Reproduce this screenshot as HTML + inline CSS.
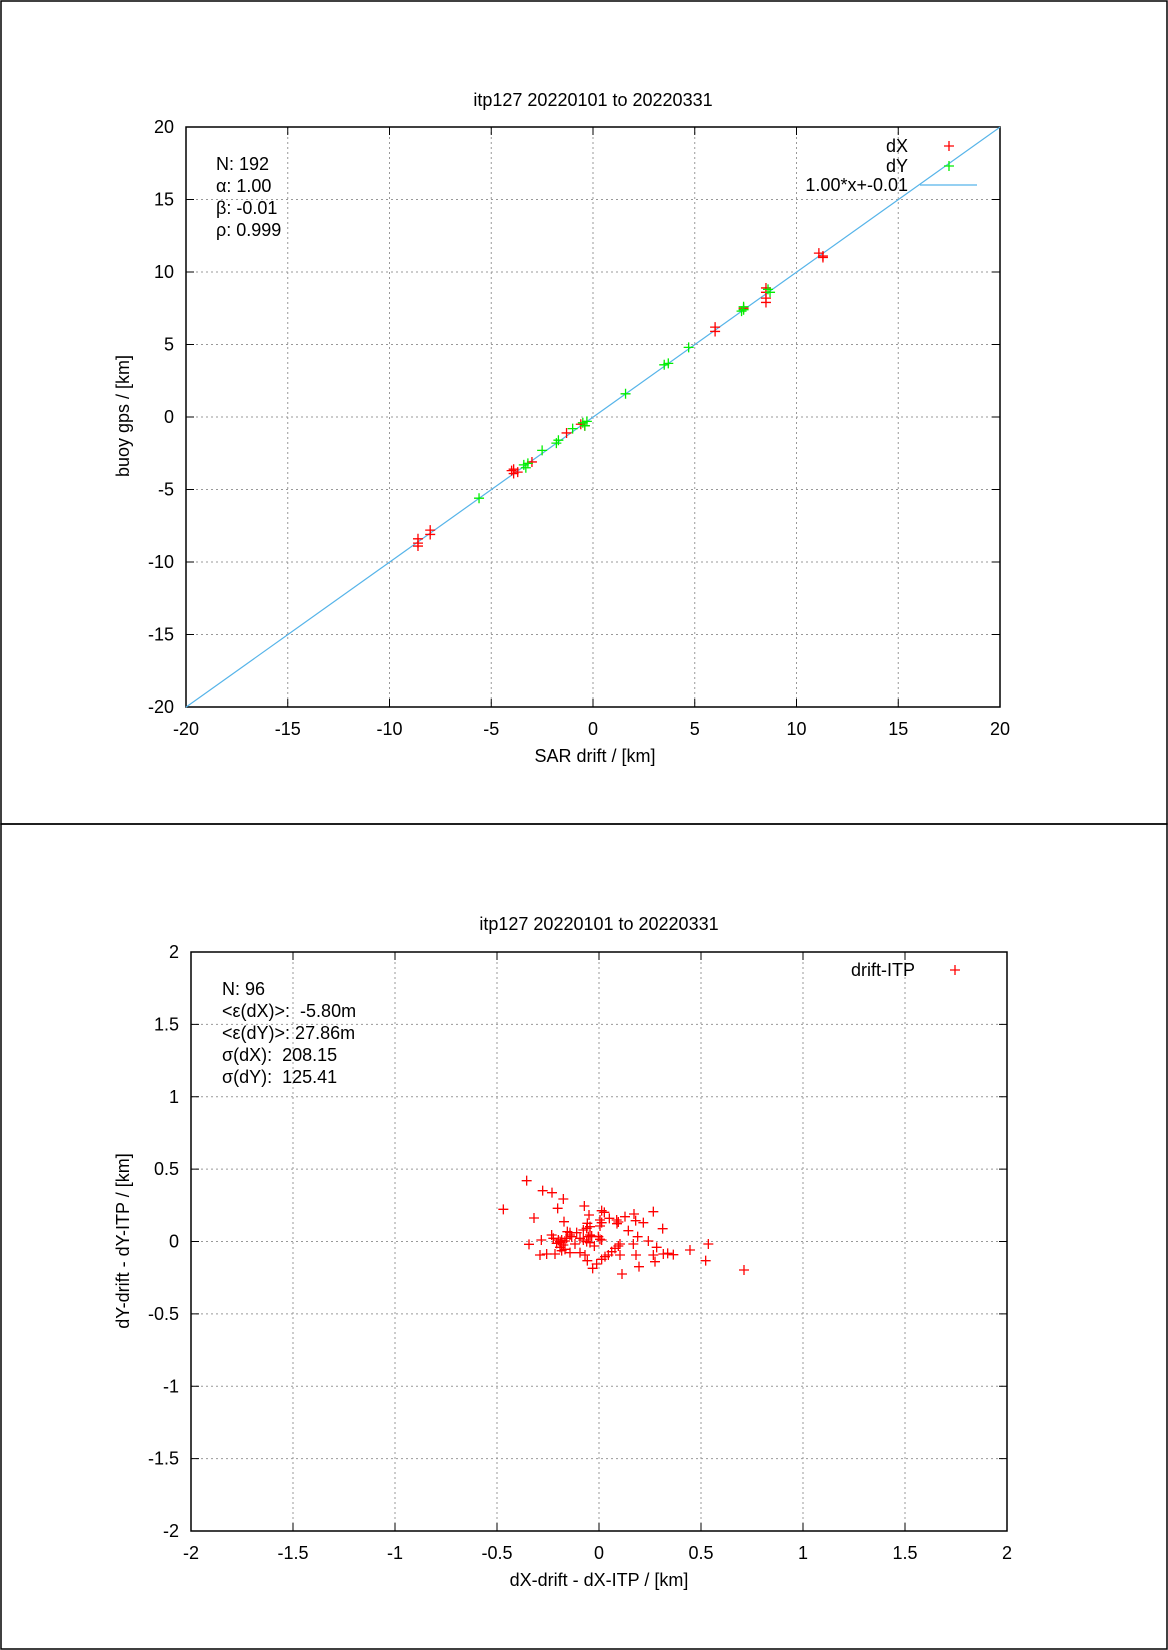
<!DOCTYPE html>
<html><head><meta charset="utf-8"><style>
html,body{margin:0;padding:0;background:#fff}
svg{display:block}
text{font-family:"Liberation Sans","DejaVu Sans",sans-serif;font-size:18px;fill:#000;white-space:pre}
</style></head><body>
<svg id="s" width="1168" height="1650" viewBox="0 0 1168 1650" xmlns="http://www.w3.org/2000/svg">
<rect x="0" y="0" width="1168" height="1650" fill="#fff"/>
<rect x="1" y="1" width="1166" height="823" fill="none" stroke="#000" stroke-width="1.5"/>
<rect x="1" y="824" width="1166" height="825" fill="none" stroke="#000" stroke-width="1.5"/>
<g id="g"></g>
<text x="593" y="106" text-anchor="middle">itp127 20220101 to 20220331</text>
<text x="595" y="762" text-anchor="middle">SAR drift / [km]</text>
<text transform="translate(129,416) rotate(-90)" text-anchor="middle">buoy gps / [km]</text>
<text x="216" y="170">N: 192</text>
<text x="216" y="192">α: 1.00</text>
<text x="216" y="214">β: -0.01</text>
<text x="216" y="236">ρ: 0.999</text>
<text x="908" y="152" text-anchor="end">dX</text>
<text x="908" y="172" text-anchor="end">dY</text>
<text x="908" y="191" text-anchor="end">1.00*x+-0.01</text>
<line x1="920" y1="185" x2="977" y2="185" stroke="#56b4e9" stroke-width="1.2"/>
<text x="599" y="930" text-anchor="middle">itp127 20220101 to 20220331</text>
<text x="599" y="1586" text-anchor="middle">dX-drift - dX-ITP / [km]</text>
<text transform="translate(129,1241) rotate(-90)" text-anchor="middle">dY-drift - dY-ITP / [km]</text>
<text x="222" y="995">N: 96</text>
<text x="222" y="1017">&lt;ε(dX)&gt;:  -5.80m</text>
<text x="222" y="1039">&lt;ε(dY)&gt;: 27.86m</text>
<text x="222" y="1061">σ(dX):  208.15</text>
<text x="222" y="1083">σ(dY):  125.41</text>
<text x="915" y="976" text-anchor="end">drift-ITP</text>
</svg>
<script>
var NS="http://www.w3.org/2000/svg",g=document.getElementById("g");
function el(t,a,txt){var e=document.createElementNS(NS,t);for(var k in a)e.setAttribute(k,a[k]);if(txt!==undefined)e.textContent=txt;g.appendChild(e);return e;}
function panel(L,T,R,B,min,max,step,fmt){
  var W=R-L,H=B-T;
  for(var v=min;v<=max+1e-9;v+=step){
    var x=L+(v-min)/(max-min)*W, y=B-(v-min)/(max-min)*H;
    var inner=Math.abs(v-min)>1e-9&&Math.abs(v-max)>1e-9;
    if(inner){
      el("line",{x1:x,y1:T,x2:x,y2:B,stroke:"#999","stroke-width":1,"stroke-dasharray":"2,3"});
      el("line",{x1:L,y1:y,x2:R,y2:y,stroke:"#999","stroke-width":1,"stroke-dasharray":"2,3"});
    }
    el("line",{x1:x,y1:B,x2:x,y2:B-8,stroke:"#000"});
    el("line",{x1:x,y1:T,x2:x,y2:T+8,stroke:"#000"});
    el("line",{x1:L,y1:y,x2:L+8,y2:y,stroke:"#000"});
    el("line",{x1:R,y1:y,x2:R-8,y2:y,stroke:"#000"});
    var s=fmt(v);
    el("text",{x:x,y:B+28,"text-anchor":"middle"},s);
    el("text",{x:L-12,y:y+6,"text-anchor":"end"},s);
  }
  el("rect",{x:L,y:T,width:W,height:H,fill:"none",stroke:"#000","stroke-width":1.5});
}
function f1(v){var r=Math.round(v*10)/10;return (r===0?"0":String(r));}
panel(186,127,1000,707,-20,20,5,f1);
panel(191,952,1007,1531,-2,2,0.5,f1);
function cross(x,y,c){el("path",{d:"M"+(x-5)+" "+y+"h10M"+x+" "+(y-5)+"v10",stroke:c,"stroke-width":1.3,fill:"none"});}
function tx(v){return 186+(v+20)*20.35;} function ty(v){return 127+(20-v)*14.5;}
el("line",{x1:tx(-20),y1:ty(-20.01),x2:tx(20),y2:ty(19.99),stroke:"#56b4e9","stroke-width":1.2});
var red=[[-8.6,-8.4],[-8.6,-8.7],[-8.6,-8.9],[-8,-7.8],[-8,-8.1],[-4,-3.7],[-3.9,-3.9],[-3.7,-3.8],[-3.9,-3.6],[-3,-3.1],[-1.3,-1.1],[-0.6,-0.5],[6,6.2],[6,5.9],[8.5,8.9],[8.5,8.6],[8.5,8.2],[8.5,7.9],[11.1,11.3],[11.3,11],[11.3,11.1],[7.4,7.5],[-0.4,-0.6]];
var grn=[[-5.6,-5.6],[-3.3,-3.5],[-3.2,-3.2],[-3.4,-3.3],[-2.5,-2.3],[-1.7,-1.6],[-1.8,-1.8],[-1,-0.8],[-0.5,-0.4],[-0.4,-0.6],[-0.3,-0.3],[1.6,1.6],[3.5,3.6],[3.7,3.7],[4.7,4.8],[7.4,7.4],[7.4,7.6],[7.3,7.3],[8.7,8.6],[8.6,8.8]];
red.forEach(function(p){cross(tx(p[0]),ty(p[1]),"#ff0000");});
grn.forEach(function(p){cross(tx(p[0]),ty(p[1]),"#00ee00");});
cross(949,146,"#ff0000");cross(949,166,"#00ee00");
var b=[[110,62],[40,148],[158,92],[186,98],[220,117],[203,145],[283,138],[132,174],[222,185],[297,165],[335,152],[343,157],[358,175],[380,180],[405,170],[432,162],[437,182],[460,188],[490,155],[381,191],[385,186],[330,198],[335,188],[292,190],[290,205],[232,215],[240,218],[260,218],[280,210],[300,225],[295,230],[305,228],[325,230],[330,238],[415,212],[518,206],[443,230],[154,240],[117,253],[190,235],[200,250],[210,245],[215,240],[220,255],[225,243],[230,235],[245,230],[270,235],[280,240],[290,245],[300,248],[313,258],[255,252],[240,225],[475,243],[390,252],[430,252],[500,262],[520,282],[533,280],[550,284],[600,270],[655,252],[647,302],[762,330],[150,285],[170,282],[195,282],[240,278],[270,278],[285,285],[292,302],[308,325],[320,312],[335,298],[345,290],[355,285],[365,275],[375,265],[385,258],[390,285],[438,285],[490,285],[495,305],[447,320],[396,342],[210,262],[225,268],[215,272],[205,240],[212,248],[185,225],[300,200],[330,180],[335,240]];
b.forEach(function(p){cross(490+p[0]/3,1160+p[1]/3,"#ff0000");});
cross(955,970,"#ff0000");
</script>
</body></html>
